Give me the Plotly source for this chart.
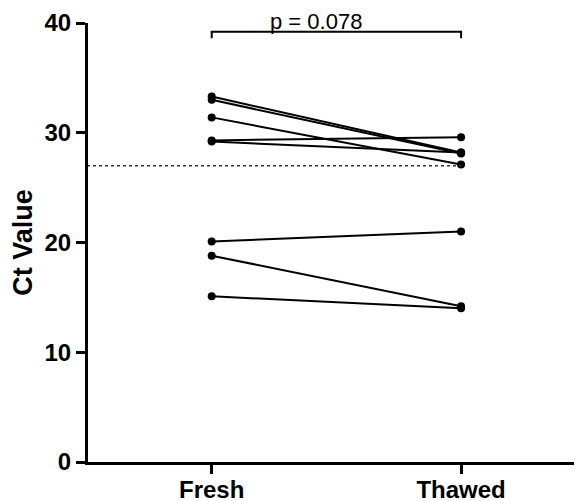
import plotly.graph_objects as go

categories = ["Fresh", "Thawed"]
fresh = [33.3, 33.0, 31.4, 29.3, 29.2, 20.1, 18.8, 15.1]
thawed = [28.2, 28.1, 27.1, 29.6, 28.2, 21.0, 14.2, 14.0]
threshold = 27.0
p_label = "p = 0.078"
y_ticks = [0, 10, 20, 30, 40]

xs, ys = [], []
for f, t in zip(fresh, thawed):
    xs += [categories[0], categories[1], None]
    ys += [f, t, None]

FONT = "Liberation Sans, Arial, sans-serif"

fig = go.Figure()
fig.add_trace(go.Scatter(
    x=xs, y=ys, mode="lines+markers",
    line=dict(color="black", width=2),
    marker=dict(color="black", size=8),
    showlegend=False, cliponaxis=False,
))

# threshold dotted line
fig.add_shape(type="line", xref="x", yref="y",
              x0=-0.5, x1=1, y0=threshold, y1=threshold,
              line=dict(color="#333333", width=1.5, dash="dot"))

# significance bracket
fig.add_shape(type="path", xref="x", yref="y",
              path="M 0,38.6 L 0,39.2 L 1,39.2 L 1,38.6",
              line=dict(color="black", width=2))
fig.add_annotation(x=0.42, y=39.2, xref="x", yref="y", text=p_label,
                   showarrow=False, yanchor="bottom", yshift=-4,
                   font=dict(family=FONT, size=22, color="black"))

fig.update_layout(
    width=582, height=501,
    margin=dict(l=80, r=0, t=15, b=47),
    plot_bgcolor="white", paper_bgcolor="white",
    font=dict(family=FONT, color="black"),
)
fig.update_xaxes(
    type="category", categoryarray=categories,
    range=[-0.496, 1.517], automargin=False,
    showline=True, linecolor="black", linewidth=3,
    ticks="outside", ticklen=9, tickwidth=3, tickcolor="black",
    ticklabelstandoff=-5,
    tickfont=dict(family=FONT, size=24, color="black", weight="bold"),
    showgrid=False, zeroline=False,
)
fig.update_yaxes(
    range=[0, 40], tickvals=y_ticks, automargin=False,
    showline=True, linecolor="black", linewidth=3,
    ticks="outside", ticklen=9, tickwidth=3, tickcolor="black",
    tickfont=dict(family=FONT, size=24, color="black", weight="bold"),
    title=dict(text="Ct Value", font=dict(family=FONT, size=27, color="black", weight="bold"), standoff=6),
    showgrid=False, zeroline=False,
)

fig.write_html("out.html")
